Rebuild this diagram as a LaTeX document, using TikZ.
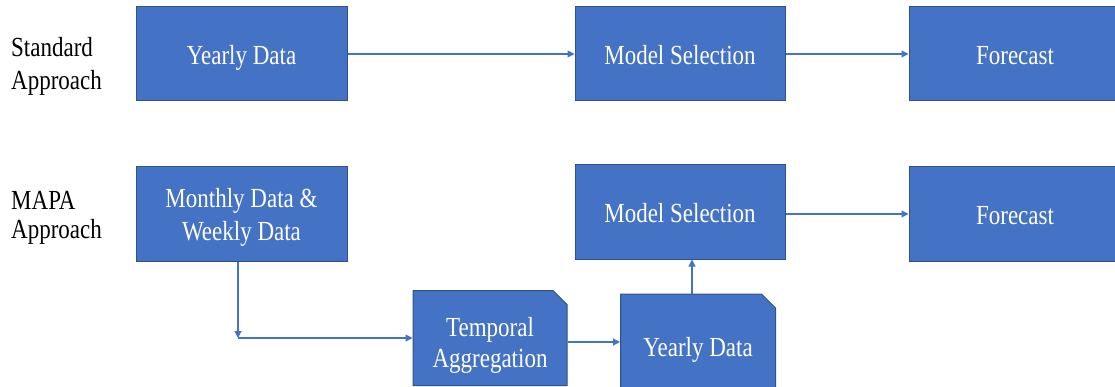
\documentclass[tikz,border=0pt]{standalone}
\usepackage{fontspec}
\usepackage{graphicx}
\setmainfont{Liberation Serif}
\usetikzlibrary{arrows.meta,shapes.misc}
\definecolor{boxfill}{HTML}{4472C4}
\definecolor{boxline}{HTML}{2F528F}
\definecolor{arr}{HTML}{4472C4}
% vertically stretched text block, lowered a little
\newcommand{\stx}[3][c]{\raisebox{-3.5pt}[\height][\depth]{\scalebox{1}[1.2]{\fontsize{23}{#2}\selectfont\begin{tabular}{@{}#1@{}}#3\end{tabular}}}}
\tikzset{
  box/.style={draw=boxline, line width=1pt, fill=boxfill, text=white, align=center, inner sep=0pt},
  snip/.style={box, chamfered rectangle, chamfered rectangle corners=north east,
    chamfered rectangle xsep=6.5pt, chamfered rectangle ysep=7.5pt},
  lab/.style={inner sep=0pt, anchor=west},
  conn/.style={draw=arr, line width=1.1pt, -{Triangle[length=7pt,width=7pt]}},
}
\begin{document}
\begin{tikzpicture}[x=1pt,y=-1pt]
\useasboundingbox (0,0) rectangle (1115,387);
% labels
\node[lab] (std) at (11,63) {\stx[l]{27.5}{Standard\\Approach}};
\node[lab] (mapa) at (11,215) {\stx[l]{24}{MAPA\\Approach}};
% top row
\node[box, minimum width=211pt, minimum height=94pt] (y1) at (241.5,54) {\stx{27.5}{Yearly Data}};
\node[box, minimum width=210pt, minimum height=94pt] (m1) at (680,54) {\stx{27.5}{Model Selection}};
\node[box, minimum width=212pt, minimum height=94pt] (f1) at (1015,54) {\stx{27.5}{Forecast}};
% bottom row
\node[box, minimum width=211pt, minimum height=94pt] (md) at (241.5,214) {\stx{27.5}{Monthly Data \&\\Weekly Data}};
\node[box, minimum width=210pt, minimum height=94pt] (m2) at (680,212) {\stx{27.5}{Model Selection}};
\node[box, minimum width=212pt, minimum height=94pt] (f2) at (1015,214) {\stx{27.5}{Forecast}};
\node[snip, minimum width=154pt, minimum height=95pt] (ta) at (490,338) {\raisebox{-4.5pt}[\height][\depth]{\stx{26}{Temporal\\Aggregation}}};
\node[snip, minimum width=155pt, minimum height=104pt] (y2) at (698,346) {\stx{27.5}{Yearly Data}};
\coordinate (bend) at (238,338);
% connectors
\draw[conn] (y1) -- (m1);
\draw[conn] (m1) -- (f1);
\draw[conn] (md.south -| bend) -- (bend);
\draw[conn] (bend) -- (ta.west |- bend);
\draw[conn] (ta.east |- 0,342) -- (y2.west |- 0,342);
\draw[conn] (y2.north -| 692,0) -- (m2.south -| 692,0);
\draw[conn] (m2.east |- 0,214) -- (f2.west |- 0,214);
\end{tikzpicture}
\end{document}
